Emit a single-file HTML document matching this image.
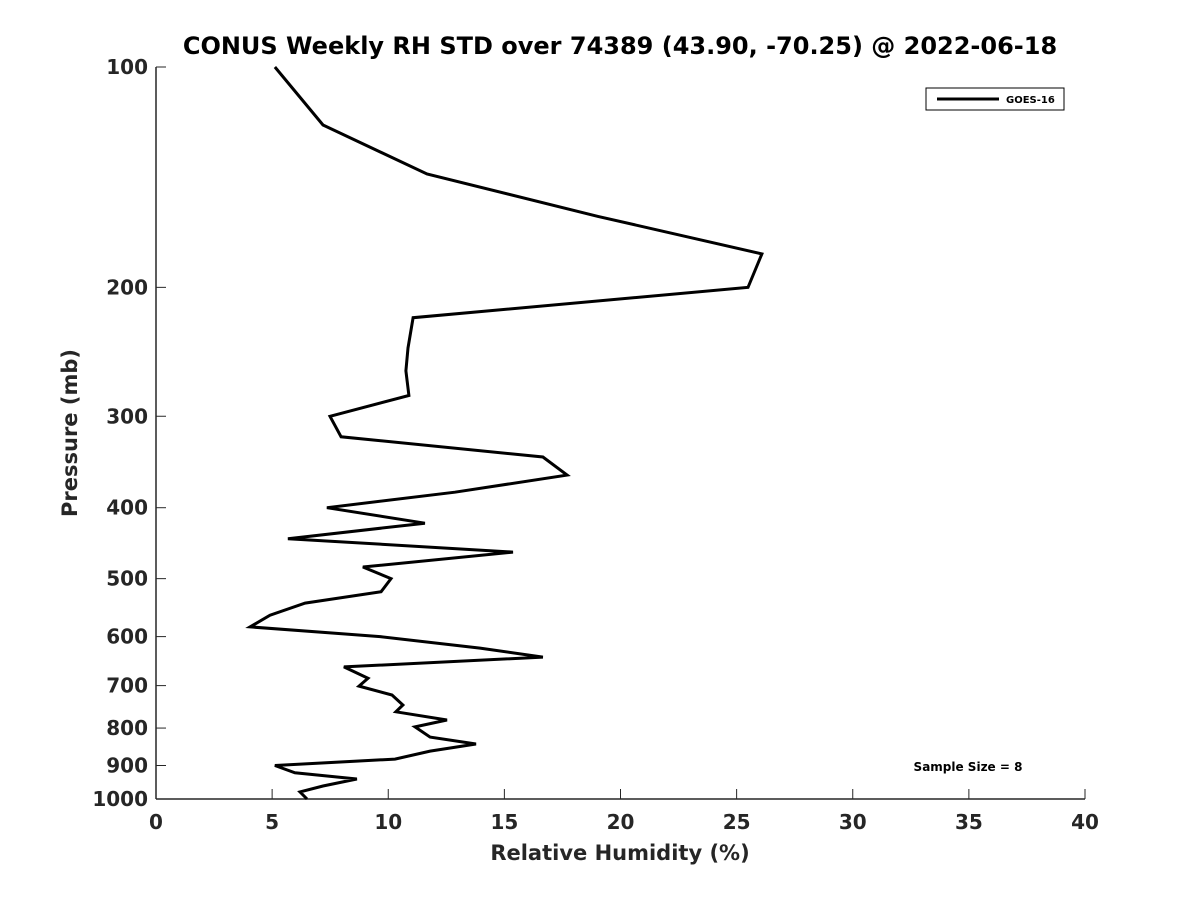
<!DOCTYPE html>
<html><head><meta charset="utf-8"><style>
body{margin:0;background:#fff;}
svg text{font-family:"DejaVu Sans","Liberation Sans",sans-serif;font-weight:bold;fill:#262626;}
</style></head><body>
<svg id="chart" width="1200" height="900" xmlns="http://www.w3.org/2000/svg">
<rect width="1200" height="900" fill="#fff"/>
<text x="620" y="54" text-anchor="middle" font-size="24" style="fill:#000">CONUS Weekly RH STD over 74389 (43.90, -70.25) @ 2022-06-18</text>
<g id="axes"></g>
<text x="620" y="860" text-anchor="middle" font-size="21">Relative Humidity (%)</text>
<text transform="translate(77,433) rotate(-90)" text-anchor="middle" font-size="21">Pressure (mb)</text>
<g>
<rect x="926" y="88" width="138" height="22" fill="#fff" stroke="#000" stroke-width="1"/>
<line x1="937" y1="99" x2="999" y2="99" stroke="#000" stroke-width="3"/>
<text x="1006" y="103" font-size="10" style="fill:#000">GOES-16</text>
</g>
<text x="968" y="771" text-anchor="middle" font-size="12" style="fill:#000">Sample Size = 8</text>
</svg>
<script>
const rhValues=[5.12,7.19,11.67,19.03,26.09,25.49,11.07,10.85,10.76,10.89,7.49,7.97,16.66,17.70,12.87,7.36,11.58,5.68,15.37,8.91,10.12,9.69,6.42,4.91,4.05,9.65,13.95,16.66,8.09,9.13,8.74,10.16,10.63,10.33,12.53,11.15,11.80,13.78,11.80,10.29,5.12,5.98,8.65,7.19,6.20,6.50];
const pressures=[100,120,140,160,180,200,220,242,260,281,300,320,341,361,381,400,420,441,460,482,500,521,540,561,582,600,622,640,660,684,701,721,744,760,780,797,823,841,860,882,900,921,939,960,978,1000];
const xTicks=[0,5,10,15,20,25,30,35,40];
const yTicks=[100,200,300,400,500,600,700,800,900,1000];
const L=156,R=1085,T=67,B=799;
function xs(v){return L+(v-0)/(40-0)*(R-L);}
function ys(p){return T+(Math.log10(p)-2)/1*(B-T);}
const NS="http://www.w3.org/2000/svg";
const g=document.getElementById('axes');
function mk(t,a,txt){const e=document.createElementNS(NS,t);for(const k in a)e.setAttribute(k,a[k]);if(txt!==undefined)e.textContent=txt;g.appendChild(e);return e;}
let ax=mk('line',{x1:L,y1:B,x2:R,y2:B,stroke:'#262626','stroke-width':1.5});


let ay=mk('line',{x1:L,y1:T,x2:L,y2:B,stroke:'#262626','stroke-width':1.5});


xTicks.forEach(v=>{
 let t=mk('line',{x1:xs(v),y1:B,x2:xs(v),y2:B-10,stroke:'#262626','stroke-width':1});
 
 
 let l=mk('text',{x:xs(v),y:B+30,'text-anchor':'middle','font-size':'20'},String(v));
 
 
});
yTicks.forEach(p=>{
 let t=mk('line',{x1:L,y1:ys(p),x2:L+10,y2:ys(p),stroke:'#262626','stroke-width':1});
 
 
 let l=mk('text',{x:L-8,y:ys(p)+7,'text-anchor':'end','font-size':'20'},String(p));
 
 
});
const pts=rhValues.map((v,i)=>xs(v).toFixed(1)+','+ys(pressures[i]).toFixed(1)).join(' ');
let line=mk('polyline',{points:pts,fill:'none',stroke:'#000','stroke-width':3,'stroke-linejoin':'miter'});


</script>
</body></html>
